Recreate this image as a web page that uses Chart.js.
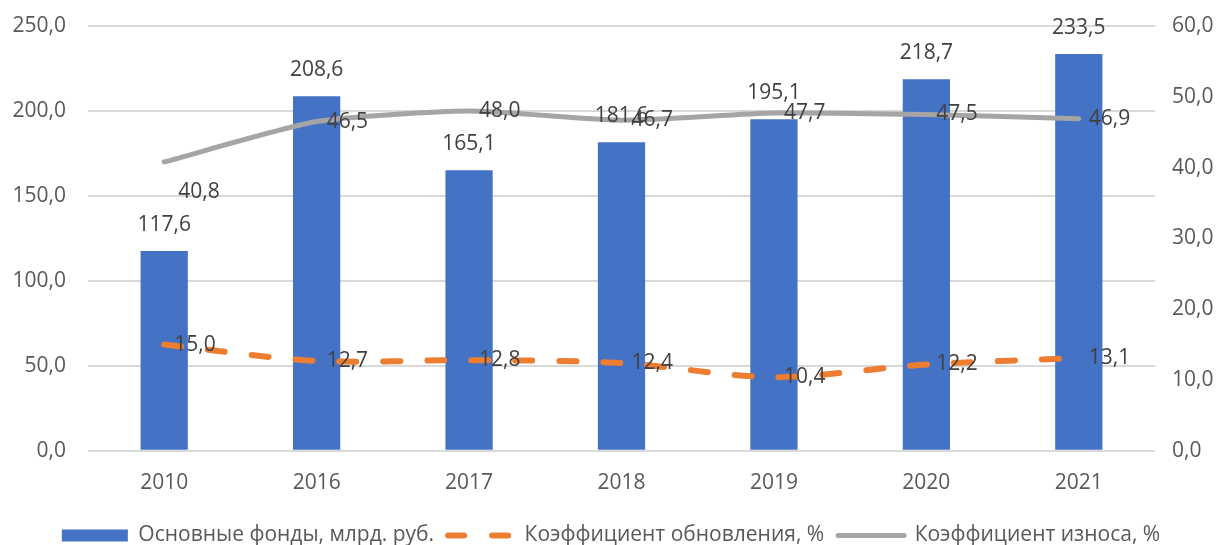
<!DOCTYPE html>
<html>
<head>
<meta charset="utf-8">
<script src="https://cdn.jsdelivr.net/npm/chart.js@4.4.1/dist/chart.umd.min.js"></script>
<style>
  html, body { margin:0; padding:0; background:#fff; }
  #wrap { width:1222px; height:545px; }
</style>
</head>
<body>
<div id="wrap"><canvas id="chart" width="1222" height="545"></canvas></div>
<script>
// ── data ──
const years = ['2010','2016','2017','2018','2019','2020','2021'];
const fundsValues = [117.6, 208.6, 165.1, 181.6, 195.1, 218.7, 233.5];   // млрд. руб.
const renewalValues = [15.0, 12.7, 12.8, 12.4, 10.4, 12.2, 13.1];       // %
const wearValues = [40.8, 46.5, 48.0, 46.7, 47.7, 47.5, 46.9];          // %
const leftTicks = [0, 50, 100, 150, 200, 250];
const rightTicks = [0, 10, 20, 30, 40, 50, 60];

const FONT = '"Open Sans", "Liberation Sans", sans-serif';
const TXT = '#595959';
const fmt = v => v.toFixed(1).replace('.', ',');

// data labels: bars above, lines to the right of the point
const valueLabels = {
  id:'valueLabels',
  afterDatasetsDraw(chart) {
    const ctx = chart.ctx;
    ctx.save();
    ctx.font = '21px ' + FONT;
    ctx.fillStyle = '#404040';
    chart.data.datasets.forEach((ds, i) => {
      const meta = chart.getDatasetMeta(i);
      meta.data.forEach((el, j) => {
        const txt = fmt(ds.data[j]);
        if (ds.type === 'bar') {
          ctx.textAlign = 'center'; ctx.textBaseline = 'middle';
          ctx.fillText(txt, el.x, el.y - 26);
        } else {
          ctx.textAlign = 'left'; ctx.textBaseline = 'middle';
          let dx = 10, dy = 0;
          if (ds.data === wearValues && j === 0) { dx = 14; dy = 30; } // label was moved in source
          ctx.fillText(txt, el.x + dx, el.y + dy);
        }
      });
    });
    ctx.restore();
  }
};

// fixed axis boxes so the plot area sits where the source has it
const fixY = w => s => { s.width = w; s.paddingTop = 26; s.paddingBottom = 0; };

new Chart(document.getElementById('chart').getContext('2d'), {
  data:{
    labels: years,
    datasets:[
      {
        type:'line', label:'Коэффициент износа, %', data: wearValues, yAxisID:'y1',
        borderColor:'#A5A5A5', borderWidth:5, tension:0.2, pointRadius:0,
        borderCapStyle:'round', pointStyle:'line', order:0
      },
      {
        type:'line', label:'Коэффициент обновления, %', data: renewalValues, yAxisID:'y1',
        borderColor:'#ED7D31', borderWidth:6, borderDash:[17,27], borderCapStyle:'round',
        tension:0.3, pointRadius:0, pointStyle:'line', order:1
      },
      {
        type:'bar', label:'Основные фонды, млрд. руб.', data: fundsValues, yAxisID:'y',
        backgroundColor:'#4472C4', categoryPercentage:1, barPercentage:0.31,
        pointStyle:'rect', order:2
      }
    ]
  },
  options:{
    responsive:false, animation:false, devicePixelRatio:1,
    layout:{ padding:{ top:0, bottom:-11 } },
    plugins:{
      tooltip:{ enabled:false },
      legend:{
        position:'bottom', reverse:true,
        labels:{
          usePointStyle:true, pointStyleWidth:66, boxHeight:12,
          color:TXT, font:{ family:FONT, size:21 }, padding:14,
          generateLabels: chart => Chart.defaults.plugins.legend.labels.generateLabels(chart).map(it => {
            const ds = chart.data.datasets[it.datasetIndex];
            if (ds.type === 'line') {
              it.strokeStyle = ds.borderColor;
              it.lineWidth = ds.borderWidth;
              it.lineCap = 'round';
              it.lineDash = ds.borderDash ? [16, 28] : [];
            }
            return it;
          })
        }
      }
    },
    scales:{
      x:{
        afterFit: s => { s.height += 3; },
        grid:{ display:false }, border:{ display:false },
        ticks:{ color:TXT, font:{ family:FONT, size:21 }, padding:12 }
      },
      y:{
        position:'left', min:0, max:250,
        afterBuildTicks: s => { s.ticks = leftTicks.map(v => ({ value:v })); },
        afterFit: fixY(88),
        grid:{ color:'#D9D9D9', lineWidth:2, drawTicks:false }, border:{ display:false },
        ticks:{ color:TXT, font:{ family:FONT, size:21 }, padding:22, callback: v => fmt(v) }
      },
      y1:{
        position:'right', min:0, max:60,
        afterBuildTicks: s => { s.ticks = rightTicks.map(v => ({ value:v })); },
        afterFit: fixY(67),
        grid:{ display:false, drawTicks:false }, border:{ display:false },
        ticks:{ color:TXT, font:{ family:FONT, size:21 }, padding:17, callback: v => fmt(v) }
      }
    }
  },
  plugins:[valueLabels]
});
</script>
</body>
</html>
